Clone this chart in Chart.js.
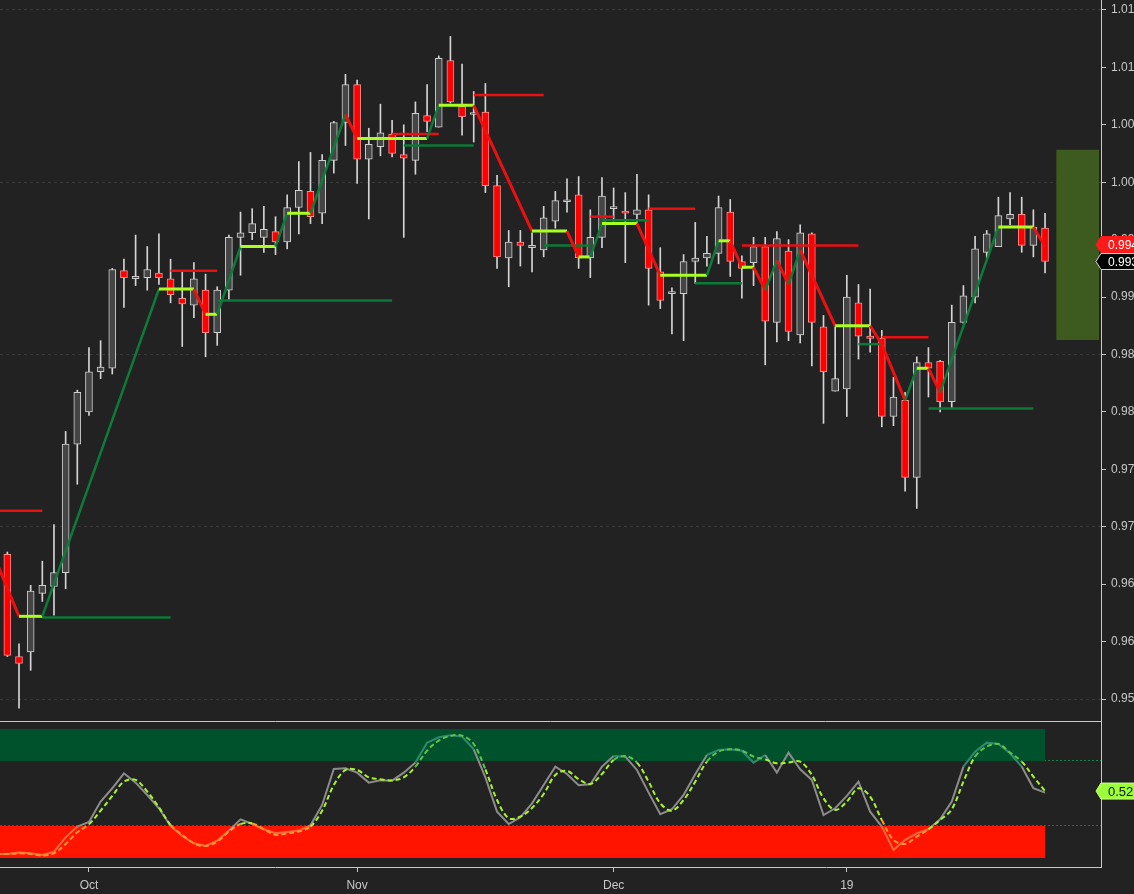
<!DOCTYPE html>
<html lang="en">
<head>
<meta charset="UTF-8">
<title>USD/CHF daily</title>
<script src="https://cdn.jsdelivr.net/npm/chart.js@4.4.1/dist/chart.umd.min.js"></script>
<style>
    html, body { margin: 0; padding: 0; background: #222222; overflow: hidden; }
    #wrap { position: relative; width: 1134px; height: 894px; }
    #priceBox { position: absolute; left: 0; top: 0; width: 1134px; height: 721px; }
    #oscBox { position: absolute; left: 0; top: 721px; width: 1134px; height: 173px; }
</style>
</head>
<body>
<div id="wrap">
    <div id="priceBox"><canvas id="price"></canvas></div>
    <div id="oscBox"><canvas id="osc"></canvas></div>
</div>
<script>
    // session index 0 = Oct 1, first candle is 7 sessions before
    const firstIndex = -7;
    const opens = [0.9676, 0.9587, 0.9591, 0.9642, 0.9648, 0.9660, 0.9772, 0.9800, 0.9835, 0.9838,
        0.9923, 0.9916, 0.9917, 0.9921, 0.9916, 0.9899, 0.9893, 0.9906, 0.9869, 0.9906,
        0.9952, 0.9956, 0.9952, 0.9957, 0.9948, 0.9978, 0.9992, 0.9973, 1.0019, 1.0052,
        1.0085, 1.0020, 1.0031, 1.0042, 1.0024, 1.0019, 1.0058, 1.0048, 1.0106, 1.0066,
        1.0059, 1.0061, 0.9997, 0.9934, 0.9948, 0.9943, 0.9941, 0.9966, 0.9983, 0.9989,
        0.9934, 0.9952, 0.9977, 0.9975, 0.9972, 0.9976, 0.9922, 0.9903, 0.9903, 0.9931,
        0.9934, 0.9938, 0.9974, 0.9931, 0.9930, 0.9944, 0.9878, 0.9940, 0.9867, 0.9955,
        0.9874, 0.9818, 0.9820, 0.9895, 0.9866, 0.9864, 0.9796, 0.9810, 0.9743, 0.9843,
        0.9844, 0.9809, 0.9878, 0.9900, 0.9939, 0.9944, 0.9968, 0.9972, 0.9945, 0.9960];
    const highs = [0.9678, 0.9598, 0.9649, 0.9670, 0.9702, 0.9783, 0.9819, 0.9856, 0.9862, 0.9925,
        0.9933, 0.9954, 0.9944, 0.9955, 0.9933, 0.9922, 0.9930, 0.9920, 0.9909, 0.9954,
        0.9974, 0.9977, 0.9979, 0.9970, 0.9989, 1.0018, 1.0026, 1.0024, 1.0053, 1.0094,
        1.0089, 1.0047, 1.0068, 1.0054, 1.0050, 1.0070, 1.0085, 1.0110, 1.0127, 1.0103,
        1.0079, 1.0086, 1.0006, 0.9958, 0.9958, 0.9956, 0.9979, 0.9992, 1.0003, 1.0005,
        0.9976, 1.0004, 0.9995, 0.9991, 1.0007, 0.9989, 0.9943, 0.9908, 0.9937, 0.9965,
        0.9953, 0.9988, 0.9985, 0.9936, 0.9952, 0.9952, 0.9957, 0.9950, 0.9963, 0.9956,
        0.9884, 0.9874, 0.9919, 0.9911, 0.9907, 0.9871, 0.9830, 0.9817, 0.9848, 0.9856,
        0.9845, 0.9893, 0.9910, 0.9953, 0.9958, 0.9987, 0.9991, 0.9987, 0.9976, 0.9973];
    const lows = [0.9587, 0.9542, 0.9575, 0.9635, 0.9623, 0.9646, 0.9737, 0.9797, 0.9829, 0.9833,
        0.9891, 0.9910, 0.9906, 0.9911, 0.9895, 0.9857, 0.9882, 0.9848, 0.9858, 0.9898,
        0.9919, 0.9950, 0.9939, 0.9937, 0.9942, 0.9955, 0.9964, 0.9964, 1.0008, 1.0032,
        0.9999, 0.9968, 1.0023, 1.0022, 0.9952, 1.0007, 1.0044, 1.0048, 1.0069, 1.0041,
        1.0035, 0.9991, 0.9925, 0.9909, 0.9927, 0.9922, 0.9935, 0.9960, 0.9974, 0.9925,
        0.9917, 0.9943, 0.9966, 0.9930, 0.9965, 0.9893, 0.9890, 0.9868, 0.9862, 0.9912,
        0.9927, 0.9929, 0.9918, 0.9899, 0.9910, 0.9841, 0.9861, 0.9862, 0.9860, 0.9840,
        0.9790, 0.9818, 0.9796, 0.9846, 0.9852, 0.9787, 0.9788, 0.9731, 0.9716, 0.9813,
        0.9800, 0.9803, 0.9877, 0.9895, 0.9934, 0.9944, 0.9963, 0.9939, 0.9935, 0.9921];
    const closes = [0.9588, 0.9581, 0.9644, 0.9649, 0.9660, 0.9772, 0.9817, 0.9835, 0.9839, 0.9924,
        0.9917, 0.9918, 0.9924, 0.9917, 0.9902, 0.9894, 0.9916, 0.9869, 0.9906, 0.9952,
        0.9956, 0.9964, 0.9959, 0.9948, 0.9978, 0.9993, 0.9970, 1.0019, 1.0052, 1.0085,
        1.0020, 1.0033, 1.0043, 1.0025, 1.0021, 1.0060, 1.0053, 1.0108, 1.0070, 1.0057,
        1.0060, 0.9997, 0.9935, 0.9948, 0.9945, 0.9945, 0.9969, 0.9984, 0.99835, 0.9934,
        0.9952, 0.9988, 0.9978, 0.9973, 0.9976, 0.9925, 0.9897, 0.99032, 0.9931, 0.9934,
        0.9938, 0.9978, 0.9931, 0.9925, 0.9944, 0.9879, 0.9951, 0.9870, 0.9956, 0.9878,
        0.9835, 0.9829, 0.9900, 0.9866, 0.9864, 0.9796, 0.9813, 0.9743, 0.9843, 0.9838,
        0.9809, 0.9878, 0.9901, 0.9942, 0.9955, 0.9971, 0.9972, 0.9945, 0.9961, 0.9931];

    // swing line vertices (session index, price)
    const swingIdx = [-8, -6, -4, 6, 9, 10, 11, 13, 16, 17, 19, 22, 23, 29, 30, 33, 38, 41, 42, 43,
        44, 47, 49, 53, 54, 55, 56, 57, 58, 59, 60, 61, 64, 67, 68, 70, 71, 72, 73, 78, 81, 82];
    const swingPrice = [0.9671, 0.9622, 0.9622, 0.9907, 0.9907, 0.9885, 0.9885, 0.9944, 0.9944, 0.9973,
        0.9973, 1.0059, 1.0038, 1.0038, 1.0067, 1.0067, 0.99575, 0.99575, 0.9935, 0.9935,
        0.9964, 0.9964, 0.9919, 0.9919, 0.9949, 0.9949, 0.9926, 0.9926, 0.9906, 0.9932,
        0.9911, 0.9941, 0.9875, 0.9875, 0.9859, 0.9810, 0.9838, 0.9838, 0.9817, 0.9961,
        0.9961, 0.9944];

    // [from, to, price]
    const resistance = [[-8, -4, 0.9714], [7, 11, 0.9923], [26, 30, 1.0042], [33, 39, 1.0076],
        [43, 45, 0.9970], [48, 52, 0.9977], [56, 66, 0.9945], [68, 72, 0.9865]];
    const support = [[-4, 7, 0.9621], [11, 26, 0.9897], [27, 33, 1.0032], [39, 43, 0.9945],
        [44, 48, 0.9967], [52, 56, 0.9912], [66, 68, 0.9859], [72, 81, 0.9803]];

    const boxIdx = [84.8];
    const boxLow = [0.9863];
    const boxHigh = [1.0028];

    const priceTicks = [0.955, 0.960, 0.965, 0.970, 0.975, 0.980, 0.985, 0.990, 0.995, 1.000, 1.005, 1.010, 1.015];
    const monthTicks = [0, 23, 45, 65];
    const monthLabels = ['Oct', 'Nov', 'Dec', '19'];

    // oscillator, first value is one session before the first candle
    const oscFirst = -8;
    const oscRaw = [-0.06, -0.059, -0.046, -0.053, -0.068, -0.037, 0.095, 0.194, 0.237, 0.425,
        0.548, 0.686, 0.600, 0.486, 0.363, 0.200, 0.107, 0.040, 0.015, 0.064,
        0.157, 0.261, 0.218, 0.169, 0.132, 0.145, 0.157, 0.206, 0.394, 0.726,
        0.732, 0.692, 0.600, 0.621, 0.618, 0.692, 0.785, 0.969, 1.019, 1.037,
        1.025, 0.908, 0.649, 0.332, 0.218, 0.280, 0.409, 0.578, 0.748, 0.680,
        0.575, 0.585, 0.748, 0.846, 0.840, 0.717, 0.508, 0.308, 0.354, 0.486,
        0.677, 0.855, 0.902, 0.908, 0.895, 0.785, 0.855, 0.692, 0.877, 0.723,
        0.625, 0.301, 0.363, 0.477, 0.609, 0.332, 0.194, -0.022, 0.071, 0.132,
        0.169, 0.261, 0.425, 0.748, 0.886, 0.969, 0.957, 0.871, 0.748, 0.548, 0.508];
    const oscSignal = [-0.06, -0.059, -0.053, -0.059, -0.074, -0.053, 0.034, 0.141, 0.215, 0.341,
        0.477, 0.609, 0.625, 0.517, 0.372, 0.209, 0.117, 0.040, 0.015, 0.055,
        0.148, 0.218, 0.224, 0.169, 0.117, 0.132, 0.148, 0.194, 0.341, 0.578,
        0.717, 0.717, 0.649, 0.631, 0.621, 0.649, 0.748, 0.895, 0.988, 1.031,
        1.034, 0.957, 0.723, 0.440, 0.271, 0.286, 0.366, 0.495, 0.671, 0.708,
        0.631, 0.588, 0.680, 0.809, 0.846, 0.785, 0.609, 0.409, 0.341, 0.440,
        0.609, 0.794, 0.886, 0.908, 0.895, 0.840, 0.815, 0.778, 0.785, 0.794,
        0.671, 0.455, 0.348, 0.425, 0.548, 0.471, 0.255, 0.071, 0.034, 0.101,
        0.169, 0.255, 0.354, 0.609, 0.840, 0.932, 0.957, 0.877, 0.794, 0.655, 0.522];
    const upperZone = [0.8, 1.095];
    const lowerZone = [-0.095, 0.2];

    const X_MIN = -7.63, X_MAX = 86.8;
    const TEXT = '#c8c8c8';
    const FONT = '"Liberation Sans", Arial, sans-serif';
    Chart.defaults.font.family = FONT;
    Chart.defaults.font.size = 12;
    Chart.defaults.color = TEXT;

    const candleX = opens.map((o, i) => firstIndex + i);
    const isUp = opens.map((o, i) => closes[i] >= o);

    function levelSets(list, color) {
        return list.map(l => ({
            type: 'line',
            data: [{ x: l[0], y: l[2] }, { x: l[1], y: l[2] }],
            borderColor: color,
            borderWidth: 2.5,
            pointRadius: 0,
            order: 1
        }));
    }

    // lines look tinted where they run through the shaded zones
    function zoneTint(normal, inUpper, inLower) {
        return s => {
            const m = (s.p0.parsed.y + s.p1.parsed.y) / 2;
            if (m > upperZone[0] && s.p0.parsed.x < 82) return inUpper;
            if (m < lowerZone[1] && s.p0.parsed.x < 82) return inLower;
            return normal;
        };
    }

    function drawTag(ctx, x, y, fill, stroke, textColor, text, size) {
        const h = 16;
        ctx.save();
        ctx.beginPath();
        ctx.moveTo(x - 5, y);
        ctx.lineTo(x, y - h / 2);
        ctx.lineTo(x + 60, y - h / 2);
        ctx.lineTo(x + 60, y + h / 2);
        ctx.lineTo(x, y + h / 2);
        ctx.closePath();
        ctx.fillStyle = fill;
        ctx.fill();
        ctx.strokeStyle = stroke;
        ctx.lineWidth = 1;
        ctx.stroke();
        ctx.fillStyle = textColor;
        ctx.font = size + 'px ' + FONT;
        ctx.textBaseline = 'middle';
        ctx.fillText(text, x + 7, y + 1);
        ctx.restore();
    }

    const priceTags = {
        id: 'priceTags',
        afterDraw(chart) {
            const y = chart.scales.y;
            const r = chart.chartArea.right;
            const sw = swingPrice[swingPrice.length - 1];
            const last = closes[closes.length - 1];
            drawTag(chart.ctx, r, y.getPixelForValue(sw) - 2, '#ff1a1a', '#ff1a1a', '#ffffff', sw.toFixed(5), 12);
            drawTag(chart.ctx, r, y.getPixelForValue(last), '#000000', '#d8d8d8', '#ffffff', last.toFixed(5), 12);
        }
    };

    const oscTag = {
        id: 'oscTag',
        afterDraw(chart) {
            const a = chart.chartArea, ctx = chart.ctx;
            ctx.save();
            ctx.strokeStyle = TEXT;
            ctx.lineWidth = 1;
            ctx.beginPath();
            ctx.moveTo(0, a.top + 0.5);
            ctx.lineTo(a.right, a.top + 0.5);
            ctx.stroke();
            ctx.restore();
            const v = oscSignal[oscSignal.length - 1];
            drawTag(ctx, a.right, chart.scales.y.getPixelForValue(v), '#9cff3a', '#c8ff90', '#111111', v.toFixed(2), 13);
        }
    };

    new Chart(document.getElementById('price'), {
        type: 'bar',
        data: {
            datasets: [
                {
                    type: 'line',
                    data: swingIdx.map((x, i) => ({ x: x, y: swingPrice[i] })),
                    borderWidth: 3,
                    pointRadius: 0,
                    segment: {
                        borderColor: s => s.p1.parsed.y > s.p0.parsed.y ? '#0c7c3a'
                            : (s.p1.parsed.y < s.p0.parsed.y ? '#ee1010' : '#aaff22'),
                        borderWidth: s => s.p1.parsed.y > s.p0.parsed.y ? 2.5 : 3
                    },
                    order: 0
                },
                ...levelSets(resistance, '#e81010'),
                ...levelSets(support, '#0b7a36'),
                {
                    data: boxIdx.map((x, i) => ({ x: x, y: [boxLow[i], boxHigh[i]] })),
                    backgroundColor: '#3d5a1f',
                    barThickness: 42,
                    grouped: false,
                    order: 2
                },
                {
                    data: candleX.map((x, i) => ({ x: x, y: [opens[i], closes[i]] })),
                    backgroundColor: isUp.map(u => u ? '#454545' : '#ff0000'),
                    borderColor: isUp.map(u => u ? '#cfcfcf' : '#ff8c8c'),
                    borderWidth: 1,
                    borderSkipped: false,
                    barThickness: 7,
                    minBarLength: 2,
                    grouped: false,
                    order: 2
                },
                {
                    data: candleX.map((x, i) => ({ x: x, y: [lows[i], highs[i]] })),
                    backgroundColor: '#d4d4d4',
                    barThickness: 1,
                    grouped: false,
                    order: 3
                }
            ]
        },
        options: {
            responsive: true,
            maintainAspectRatio: false,
            animation: false,
            layout: { padding: 0 },
            plugins: { legend: { display: false }, tooltip: { enabled: false } },
            scales: {
                x: { type: 'linear', min: X_MIN, max: X_MAX, offset: false, display: false },
                y: {
                    type: 'linear',
                    position: 'right',
                    min: 1.01587 - 721 * 0.00008708,
                    max: 1.01587,
                    afterBuildTicks: s => { s.ticks = priceTicks.map(v => ({ value: v })); },
                    afterFit: s => { s.width = 33; s.paddingTop = 0; s.paddingBottom = 0; },
                    ticks: { color: TEXT, padding: 5, callback: v => v.toFixed(3) },
                    grid: {
                        color: c => (Math.round((c.tick.value - 0.955) / 0.005) % 3 === 0 ? '#3a3a3a' : 'rgba(0,0,0,0)'),
                        tickColor: TEXT,
                        tickLength: 5
                    },
                    border: { color: TEXT, dash: [3, 3] }
                }
            }
        },
        plugins: [priceTags]
    });

    new Chart(document.getElementById('osc'), {
        type: 'line',
        data: {
            datasets: [
                {
                    data: [{ x: -8, y: upperZone[1] }, { x: 82, y: upperZone[1] }],
                    borderWidth: 0, pointRadius: 0, fill: false, order: 5
                },
                {
                    data: [{ x: -8, y: upperZone[0] }, { x: 82, y: upperZone[0] }],
                    borderWidth: 0, pointRadius: 0, fill: '-1', backgroundColor: '#00522c', order: 5
                },
                {
                    data: [{ x: -8, y: lowerZone[1] }, { x: 82, y: lowerZone[1] }],
                    borderWidth: 0, pointRadius: 0, fill: false, order: 5
                },
                {
                    data: [{ x: -8, y: lowerZone[0] }, { x: 82, y: lowerZone[0] }],
                    borderWidth: 0, pointRadius: 0, fill: '-1', backgroundColor: '#ff1400', order: 5
                },
                {
                    data: oscRaw.map((v, i) => ({ x: oscFirst + i, y: v })),
                    borderColor: '#8c8c8c',
                    borderWidth: 2,
                    pointRadius: 0,
                    segment: { borderColor: zoneTint('#8c8c8c', '#2f8a72', '#ff6a3c') },
                    order: 1
                },
                {
                    data: oscSignal.map((v, i) => ({ x: oscFirst + i, y: v })),
                    borderColor: '#a6f52a',
                    borderWidth: 2,
                    borderDash: [5, 3],
                    tension: 0.35,
                    pointRadius: 0,
                    segment: { borderColor: zoneTint('#a6f52a', '#5fc24a', '#ff9a2a') },
                    order: 0
                }
            ]
        },
        options: {
            responsive: true,
            maintainAspectRatio: false,
            animation: false,
            layout: { padding: 0 },
            plugins: { legend: { display: false }, tooltip: { enabled: false } },
            scales: {
                x: {
                    type: 'linear', min: X_MIN, max: X_MAX, offset: false,
                    afterBuildTicks: s => { s.ticks = monthTicks.map(v => ({ value: v })); },
                    afterFit: s => { s.height = 27; s.paddingLeft = 0; s.paddingRight = 0; },
                    ticks: { color: TEXT, padding: 6, autoSkip: false, maxRotation: 0, callback: (v, i) => monthLabels[i] },
                    grid: { drawOnChartArea: false, tickColor: TEXT, tickLength: 5 },
                    border: { color: TEXT }
                },
                y: {
                    type: 'linear',
                    position: 'right',
                    min: -0.179,
                    max: 1.169,
                    afterBuildTicks: s => { s.ticks = [{ value: lowerZone[1] }, { value: upperZone[0] }]; },
                    afterFit: s => { s.width = 33; s.paddingTop = 0; s.paddingBottom = 0; },
                    ticks: { display: false },
                    grid: {
                        color: c => (c.tick && c.tick.value > 0.5 ? '#10864a' : '#c81e1e'),
                        drawTicks: false
                    },
                    border: { color: TEXT, dash: [2, 2] }
                }
            }
        },
        plugins: [oscTag]
    });
</script>
</body>
</html>
